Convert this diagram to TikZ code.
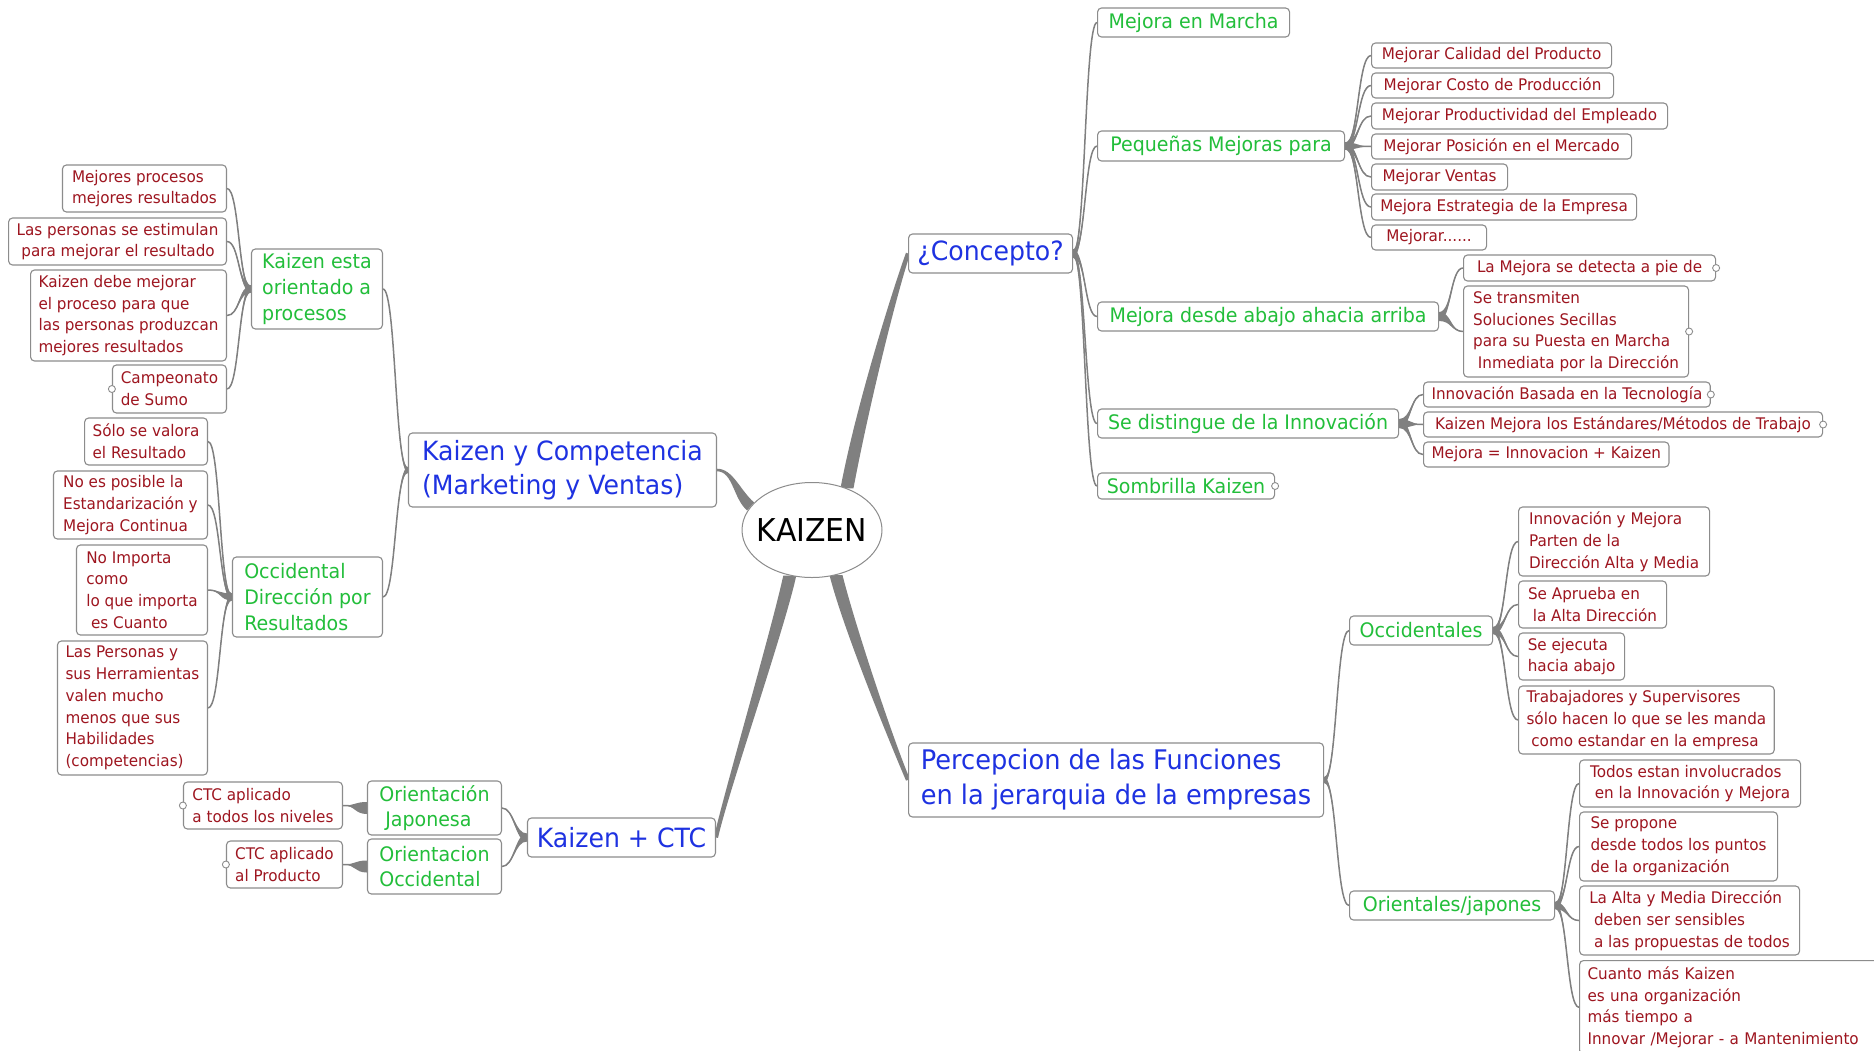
\documentclass[tikz,border=0pt]{standalone}
\usepackage{fontspec}
\setmainfont{DejaVu Sans}[FakeStretch=0.95]
\usetikzlibrary{calc,shapes.geometric}
\definecolor{rcol}{RGB}{158,22,32}
\definecolor{gcol}{RGB}{34,190,58}
\definecolor{bcol}{RGB}{30,50,225}
\definecolor{edgecol}{RGB}{140,140,140}
\definecolor{lcol}{RGB}{128,128,128}
\pgfdeclarelayer{bg}
\pgfdeclarelayer{lines}
\pgfsetlayers{bg,lines,main}
\tikzset{
 mbox/.style={draw=edgecol, line width=1.1pt, rounded corners=4pt, fill=white, align=left, inner xsep=8pt, inner ysep=2pt},
 redbox/.style={mbox, text=rcol, font=\fontsize{16}{21.8}\selectfont},
 greenbox/.style={mbox, text=gcol, font=\fontsize{20}{25.7}\selectfont},
 bluebox/.style={mbox, text=bcol, font=\fontsize{26.5}{34}\selectfont},
 wh/.style 2 args={minimum width=#1, minimum height=#2},
 lft/.style={anchor=east}, rgt/.style={anchor=west},
 dot/.style={circle, draw=edgecol, line width=0.9pt, fill=white, inner sep=0pt, minimum size=7pt},
 cfill/.style={fill=lcol},
 cline/.style={draw=lcol, line width=1.5pt},
}
\newcommand\conn[4]{%
 \fill[cfill] ($#1+(0,-#3)$) .. controls ($#1+(#4,-#3)$) and ($#2-(#4,0)$) .. #2
   .. controls ($#2-(#4,0)$) and ($#1+(#4,#3)$) .. ($#1+(0,#3)$) -- cycle;
 \draw[cline] #1 .. controls ($#1+(#4,0)$) and ($#2-(#4,0)$) .. #2;}
\newcommand\hs{\hspace*{0.3em}}
\begin{document}
\begin{tikzpicture}[x=1pt,y=-1pt]
\begin{pgfonlayer}{bg}
\fill[white] (0,0) rectangle (1874,1050);
\end{pgfonlayer}
\useasboundingbox (0,0) rectangle (1874,1050);
\clip (0,0) rectangle (1874,1050);

% ---------- centre ----------
\node[ellipse, draw=edgecol, line width=1pt, fill=white, minimum width=140, minimum height=95, inner sep=0pt] (kz) at (812,530) {};
\node[font=\fontsize{31.5}{36}\selectfont, text=black] (kzt) at (kz.center) {KAIZEN};

% ---------- left side ----------
\node[bluebox, lft, wh={308}{74}] (b1) at (717,470) {Kaizen y Competencia\\(Marketing y Ventas)};
\node[greenbox, lft, wh={131}{80}] (g1) at (383,289) {Kaizen esta\\orientado a\\procesos};
\node[greenbox, lft, wh={150}{80}] (g2) at (383,597) {Occidental\\Dirección por\\Resultados};
\node[redbox, lft, wh={164}{47}] (m1) at (227,188.5) {Mejores procesos\\mejores resultados};
\node[redbox, lft, wh={216}{47}] (m2) at (227,241.5) {Las personas se estimulan\\\hs para mejorar el resultado};
\node[redbox, lft, wh={195}{91}] (m3) at (227,315.5) {Kaizen debe mejorar\\el proceso para que\\las personas produzcan\\mejores resultados};
\node[redbox, lft, wh={114}{48}] (m4) at (227,389) {Campeonato\\de Sumo};
\node[redbox, lft, wh={122}{47}] (s1) at (208,441.5) {Sólo se valora\\el Resultado};
\node[redbox, lft, wh={154}{68}] (s2) at (208,505) {No es posible la\\Estandarización y\\Mejora Continua};
\node[redbox, lft, wh={131}{90}] (s3) at (208,590) {No Importa\\como\\lo que importa\\\hs es Cuanto};
\node[redbox, lft, wh={150}{134}] (s4) at (208,708) {Las Personas y\\sus Herramientas\\valen mucho\\menos que sus\\Habilidades\\(competencias)};

\node[bluebox, lft, wh={188}{39}] (b2) at (716,837.5) {Kaizen + CTC};
\node[greenbox, lft, wh={134}{54}] (oj) at (502,808) {Orientación\\\hs Japonesa};
\node[greenbox, lft, wh={134}{55}] (oo) at (502,866.5) {Orientacion\\Occidental};
\node[redbox, lft, wh={159}{47}] (ctc1) at (343,805.5) {CTC aplicado\\a todos los niveles};
\node[redbox, lft, wh={116}{47}] (ctc2) at (343,864.5) {CTC aplicado\\al Producto};

% ---------- right side, top ----------
\node[bluebox, rgt, wh={164}{39}] (concepto) at (908,253.5) {¿Concepto?};
\node[greenbox, rgt, wh={192}{29}] (mm) at (1097,22.5) {Mejora en Marcha};
\node[greenbox, rgt, wh={247}{30}] (pm) at (1097,146) {Pequeñas Mejoras para};
\node[redbox, rgt, wh={240}{25}] (p1) at (1371,55.5) {Mejorar Calidad del Producto};
\node[redbox, rgt, wh={242}{25}] (p2) at (1371,85.5) {Mejorar Costo de Producción};
\node[redbox, rgt, wh={296}{26}] (p3) at (1371,116) {Mejorar Productividad del Empleado};
\node[redbox, rgt, wh={260}{25}] (p4) at (1371,146.5) {Mejorar Posición en el Mercado};
\node[redbox, rgt, wh={136}{26}] (p5) at (1371,177) {Mejorar Ventas};
\node[redbox, rgt, wh={265}{26}] (p6) at (1371,207) {Mejora Estrategia de la Empresa};
\node[redbox, rgt, wh={115}{25}] (p7) at (1371,237.5) {Mejorar......};
\node[greenbox, rgt, wh={341}{29}] (md) at (1097,316.5) {Mejora desde abajo ahacia arriba};
\node[redbox, rgt, wh={252}{26}] (lm) at (1463,268) {La Mejora se detecta a pie de};
\node[redbox, rgt, wh={225}{91}] (st) at (1463,331.5) {Se transmiten\\Soluciones Secillas\\para su Puesta en Marcha\\\hs Inmediata por la Dirección};
\node[greenbox, rgt, wh={301}{29}] (sd) at (1097,423.5) {Se distingue de la Innovación};
\node[redbox, rgt, wh={286}{25}] (ib) at (1423,394.5) {Innovación Basada en la Tecnología};
\node[redbox, rgt, wh={399}{25}] (km) at (1423,424.5) {Kaizen Mejora los Estándares/Métodos de Trabajo};
\node[redbox, rgt, wh={244}{25}] (mi) at (1423,454.5) {Mejora = Innovacion + Kaizen};
\node[greenbox, rgt, wh={177}{26}] (sk) at (1097,486) {Sombrilla Kaizen};

% ---------- right side, bottom ----------
\node[bluebox, rgt, wh={415}{74}, font=\fontsize{27}{35}\selectfont] (perc) at (908,780) {Percepcion de las Funciones\\en la jerarquia de la empresas};
\node[greenbox, rgt, wh={143}{29}] (oc) at (1349,630.5) {Occidentales};
\node[redbox, rgt, wh={191}{69}] (im) at (1518,541.5) {Innovación y Mejora\\Parten de la\\Dirección Alta y Media};
\node[redbox, rgt, wh={148}{47}] (sa) at (1518,604.5) {Se Aprueba en\\\hs la Alta Dirección};
\node[redbox, rgt, wh={106}{47}] (se) at (1518,656.5) {Se ejecuta\\hacia abajo};
\node[redbox, rgt, wh={254}{68}] (ts) at (1518,720) {Trabajadores y Supervisores\\sólo hacen lo que se les manda\\\hs como estandar en la empresa};
\node[greenbox, rgt, wh={205}{29}] (or) at (1349,905.5) {Orientales/japones};
\node[redbox, rgt, wh={221}{47}] (te) at (1579,783.5) {Todos estan involucrados\\\hs en la Innovación y Mejora};
\node[redbox, rgt, wh={198}{69}] (sp) at (1579,846.5) {Se propone\\desde todos los puntos\\de la organización};
\node[redbox, rgt, wh={220}{69}] (la) at (1579,920.5) {La Alta y Media Dirección\\\hs deben ser sensibles\\\hs a las propuestas de todos};
\node[redbox, anchor=north west, text width=330pt, inner ysep=6pt] (ck) at (1579,960) {Cuanto más Kaizen\\es una organización\\más tiempo a\\Innovar /Mejorar - a Mantenimiento};

% ---------- collapse markers ----------
\node[dot] (d1) at (m4.west) {};
\node[dot] (d2) at (ctc1.west) {};
\node[dot] (d3) at (ctc2.west) {};
\node[dot] (d4) at (lm.east) {};
\node[dot] (d5) at (st.east) {};
\node[dot] (d6) at (ib.east) {};
\node[dot] (d7) at (km.east) {};
\node[dot] (d8) at (sk.east) {};

% ---------- connectors ----------
\begin{pgfonlayer}{lines}
% main branches
\fill[cfill] ($(kz.50)+(-6.5,0)$) .. controls ($(kz.50)+(8.5,-80)$) and ($(concepto.west)+(-16.5,39.5)$) .. ($(concepto.west)+(-2,-0.8)$)
  -- ($(concepto.west)+(2,0.8)$) .. controls ($(concepto.west)+(-11.5,40.5)$) and ($(kz.50)+(21.5,-80)$) .. ($(kz.50)+(6.5,0)$) -- cycle;
\fill[cfill] ($(kz.159)+(3.5,-4)$) .. controls ($(kz.159)+(-10.5,-16)$) and ($(b1.east)+(16,-1.3)$) .. ($(b1.east)+(0,-1.3)$)
  -- ($(b1.east)+(0,1.3)$) .. controls ($(b1.east)+(16,1.3)$) and ($(kz.159)+(-17.5,-8)$) .. ($(kz.159)+(-3.5,4)$) -- cycle;
\fill[cfill] ($(kz.244)+(-6.5,0)$) .. controls ($(kz.244)+(-18.5,55)$) and ($(b2.east)+(8,-45)$) .. ($(b2.east)+(-2,-0.4)$)
  -- ($(b2.east)+(2,0.4)$) .. controls ($(b2.east)+(12,-45)$) and ($(kz.244)+(-5.5,55)$) .. ($(kz.244)+(6.5,0)$) -- cycle;
\fill[cfill] ($(kz.298)+(-6.5,0)$) .. controls ($(kz.298)+(7.5,55)$) and ($(perc.west)+(-17,-34.5)$) .. ($(perc.west)+(-2,0.6)$)
  -- ($(perc.west)+(2,-0.6)$) .. controls ($(perc.west)+(-13,-35.5)$) and ($(kz.298)+(20.5,55)$) .. ($(kz.298)+(6.5,0)$) -- cycle;
% left
\conn{(b1.west)}{(g1.east)}{3}{-13}
\conn{(b1.west)}{(g2.east)}{3}{-13}
\conn{(g1.west)}{(m1.east)}{3.5}{-12.5}
\conn{(g1.west)}{(m2.east)}{3.5}{-12.5}
\conn{(g1.west)}{(m3.east)}{3.5}{-12.5}
\conn{(g1.west)}{(m4.east)}{3.5}{-12.5}
\conn{(g2.west)}{(s1.east)}{3.5}{-12.5}
\conn{(g2.west)}{(s2.east)}{3.5}{-12.5}
\conn{(g2.west)}{(s3.east)}{3.5}{-12.5}
\conn{(g2.west)}{(s4.east)}{3.5}{-12.5}
\conn{(b2.west)}{(oj.east)}{4}{-12}
\conn{(b2.west)}{(oo.east)}{4}{-12}
\conn{(oj.west)}{(ctc1.east)}{6}{-12.5}
\conn{(oo.west)}{(ctc2.east)}{6}{-12.5}
% right top
\conn{(concepto.east)}{(mm.west)}{4}{12.5}
\conn{(concepto.east)}{(pm.west)}{4}{12.5}
\conn{(concepto.east)}{(md.west)}{4}{12.5}
\conn{(concepto.east)}{(sd.west)}{4}{12.5}
\conn{(concepto.east)}{(sk.west)}{4}{12.5}
\conn{(pm.east)}{(p1.west)}{3.5}{13.5}
\conn{(pm.east)}{(p2.west)}{3.5}{13.5}
\conn{(pm.east)}{(p3.west)}{3.5}{13.5}
\conn{(pm.east)}{(p4.west)}{3.5}{13.5}
\conn{(pm.east)}{(p5.west)}{3.5}{13.5}
\conn{(pm.east)}{(p6.west)}{3.5}{13.5}
\conn{(pm.east)}{(p7.west)}{3.5}{13.5}
\conn{(md.east)}{(lm.west)}{4.5}{12.5}
\conn{(md.east)}{(st.west)}{4.5}{12.5}
\conn{(sd.east)}{(ib.west)}{4.5}{12.5}
\conn{(sd.east)}{(km.west)}{4.5}{12.5}
\conn{(sd.east)}{(mi.west)}{4.5}{12.5}
% right bottom
\conn{(perc.east)}{(oc.west)}{3}{13}
\conn{(perc.east)}{(or.west)}{3}{13}
\conn{(oc.east)}{(im.west)}{3.5}{13}
\conn{(oc.east)}{(sa.west)}{3.5}{13}
\conn{(oc.east)}{(se.west)}{3.5}{13}
\conn{(oc.east)}{(ts.west)}{3.5}{13}
\conn{(or.east)}{(te.west)}{3.5}{12.5}
\conn{(or.east)}{(sp.west)}{3.5}{12.5}
\conn{(or.east)}{(la.west)}{3.5}{12.5}
\conn{(or.east)}{(ck.west)}{3.5}{12.5}
\end{pgfonlayer}
\end{tikzpicture}
\end{document}
